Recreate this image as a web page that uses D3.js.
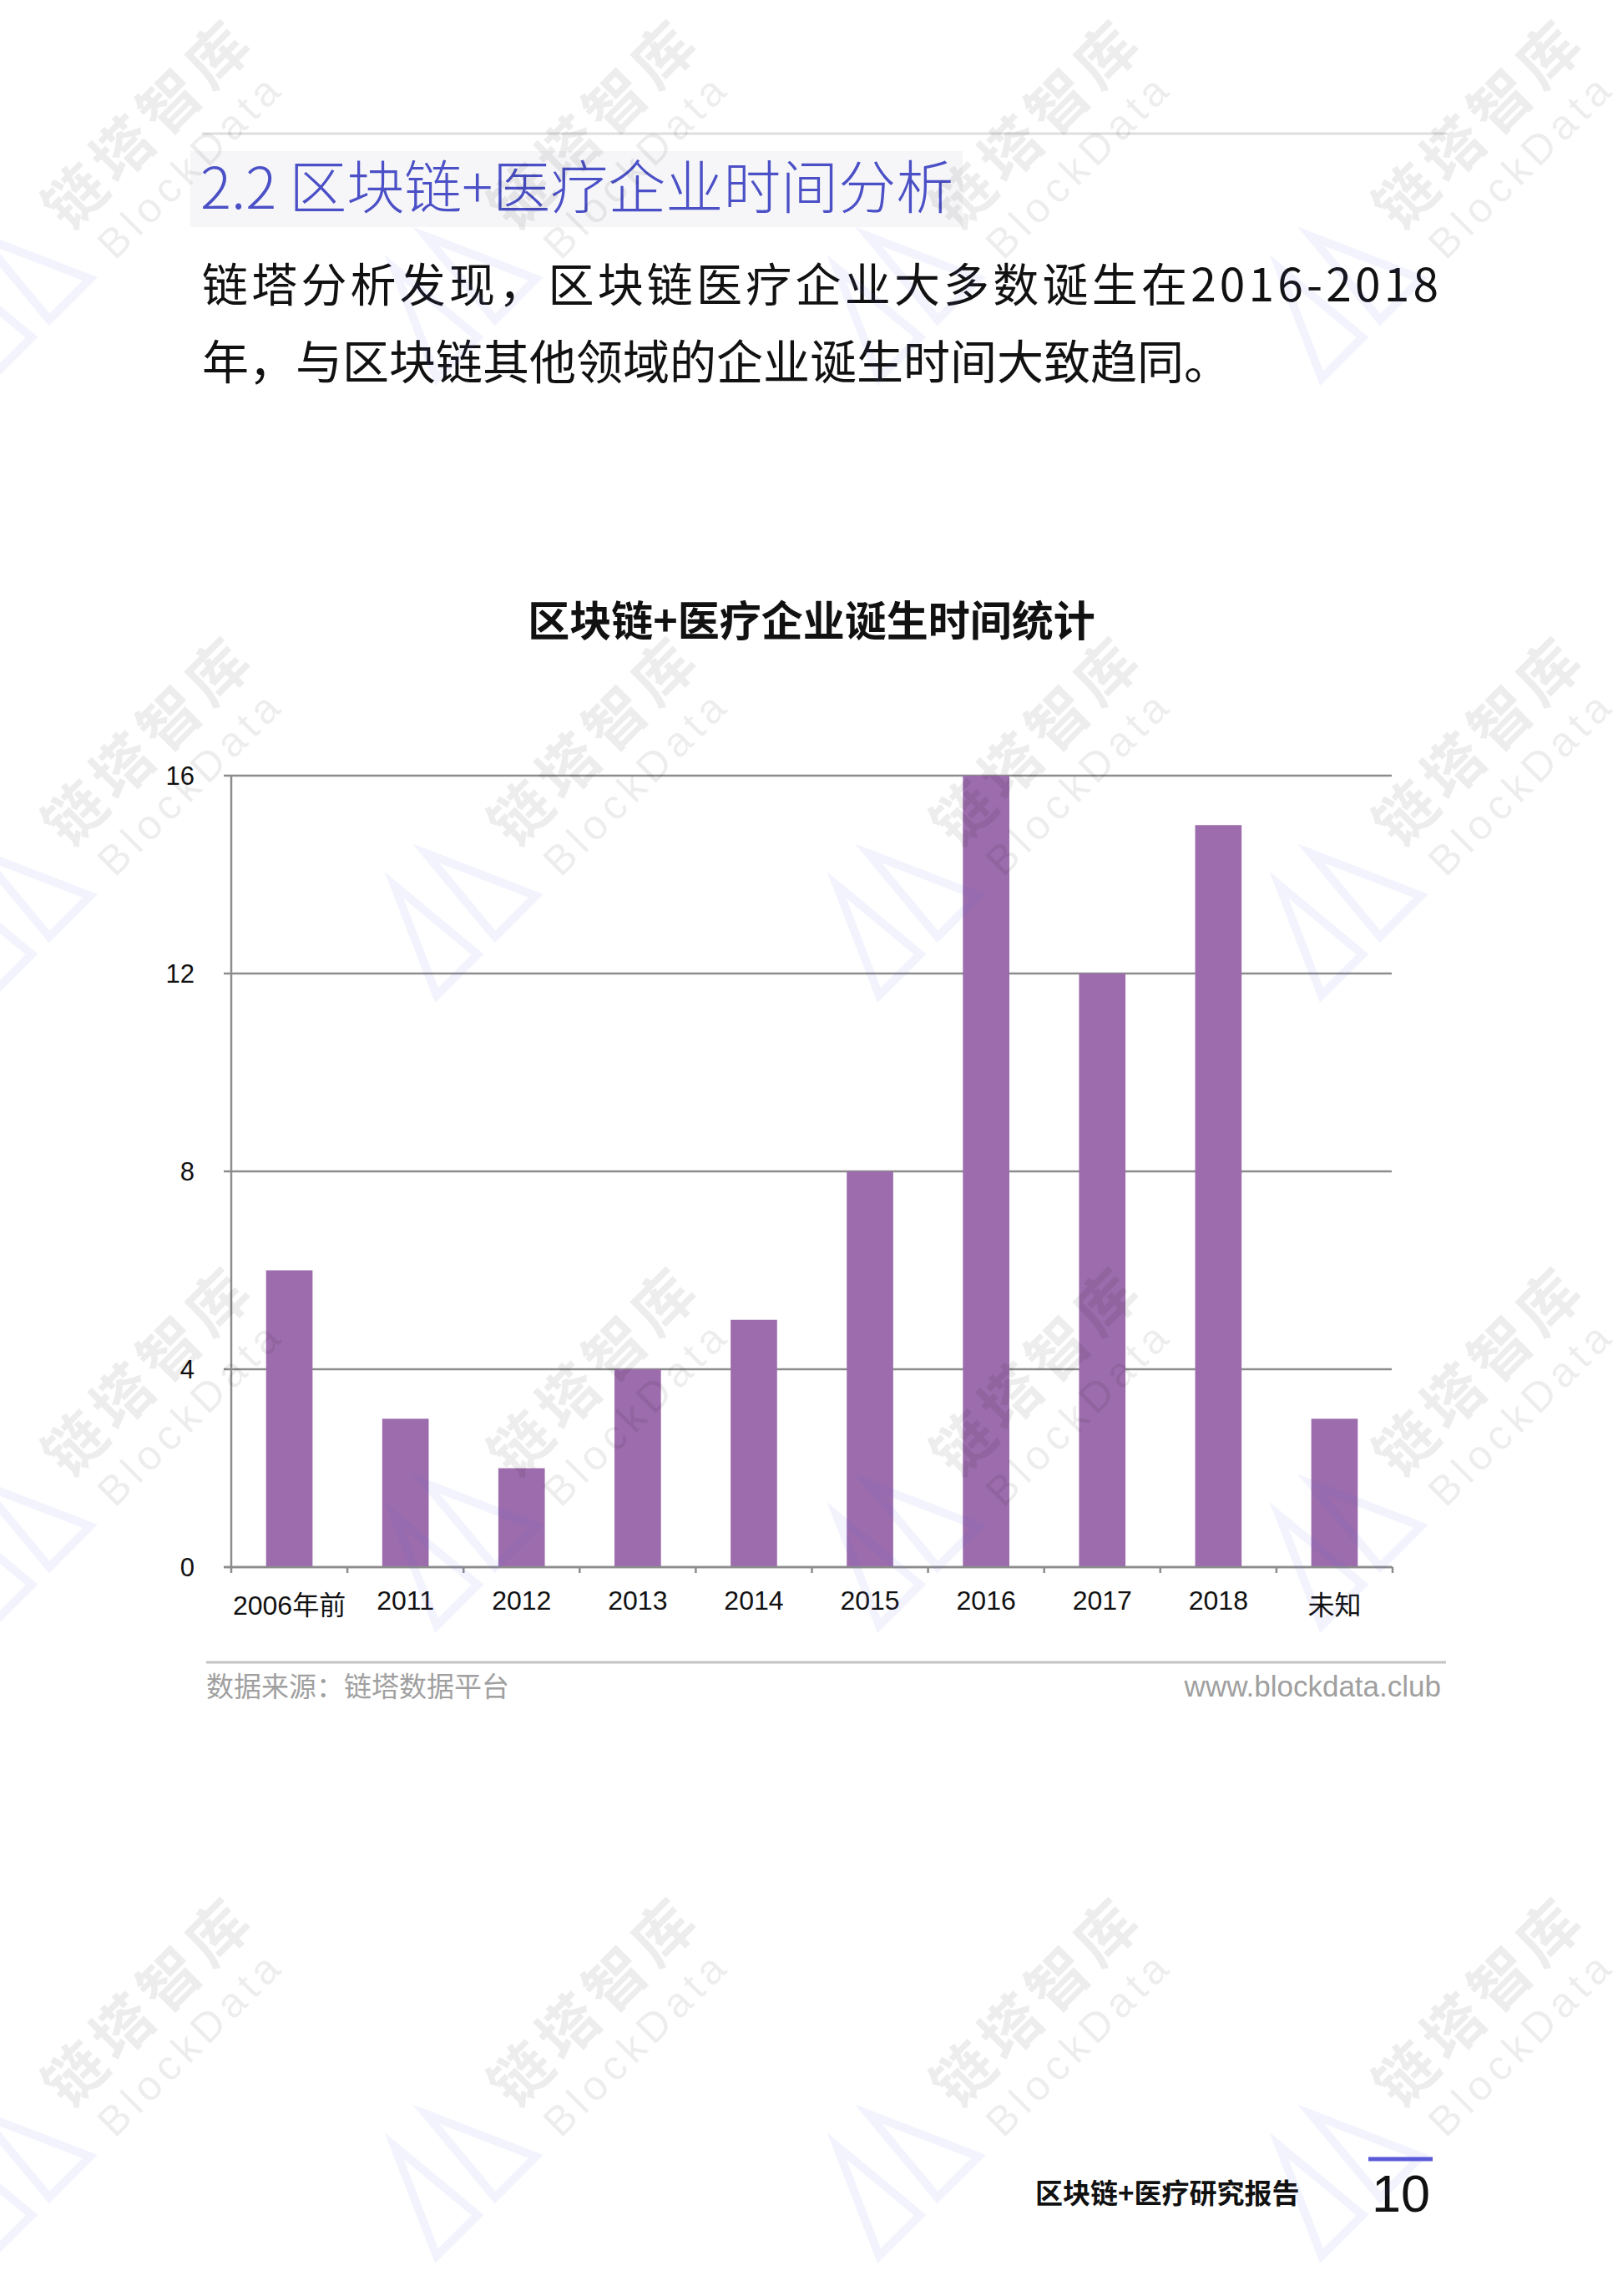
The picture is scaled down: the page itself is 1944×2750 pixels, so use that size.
<!DOCTYPE html>
<html><head><meta charset="utf-8">
<script src="https://cdn.jsdelivr.net/npm/d3@7/dist/d3.min.js"></script>
<style>body{margin:0;background:#fff}svg{display:block}</style>
</head><body><svg id="c" width="1944" height="2750"></svg>
<script>
const categories = ["2006年前","2011","2012","2013","2014","2015","2016","2017","2018","未知"];
const counts = [6,3,2,4,5,8,16,12,15,3];
const yTicks = [0,4,8,12,16];
const sectionTitle = "2.2 区块链+医疗企业时间分析";
const bodyLines = ["链塔分析发现，区块链医疗企业大多数诞生在2016-2018","年，与区块链其他领域的企业诞生时间大致趋同。"];
const chartTitle = "区块链+医疗企业诞生时间统计";
const sourceText = "数据来源：链塔数据平台";
const siteText = "www.blockdata.club";
const footerTitle = "区块链+医疗研究报告";
const pageNo = "10";

const svg = d3.select("#c");
const CJK = "'Noto Sans CJK SC','Noto Sans',sans-serif";
const LAT = "'Liberation Sans',Arial,'Noto Sans CJK SC',sans-serif";

// header
svg.append("line").attr("x1",242).attr("x2",1733).attr("y1",160).attr("y2",160)
  .attr("stroke","#dedede").attr("stroke-width",3);
svg.append("rect").attr("x",228).attr("y",181).attr("width",925).attr("height",91).attr("fill","#f6f6f8");
svg.append("text").attr("x",240).attr("y",250).attr("font-family",CJK).attr("font-weight",300)
  .attr("font-size",69).attr("fill","#4b50c6").text(sectionTitle);
svg.append("text").attr("x",242).attr("y",361).attr("font-family",CJK).attr("font-size",55)
  .attr("fill","#111").attr("textLength",1481).attr("lengthAdjust","spacing").text(bodyLines[0]);
svg.append("text").attr("x",242).attr("y",454).attr("font-family",CJK).attr("font-size",56)
  .attr("fill","#111").text(bodyLines[1]);

// chart title
svg.append("text").attr("x",972).attr("y",762).attr("text-anchor","middle").attr("font-family",CJK)
  .attr("font-weight",700).attr("font-size",50).attr("fill","#111").text(chartTitle);

// scales
const x = d3.scaleBand().domain(categories).range([277,1668]).paddingInner(0.6).paddingOuter(0.3);
const y = d3.scaleLinear().domain([0,16]).range([1877,929]);
const g = svg.append("g");

// gridlines
g.selectAll("line.grid").data(yTicks).join("line").attr("class","grid")
  .attr("x1",268).attr("x2",1667).attr("y1",d=>y(d)).attr("y2",d=>y(d))
  .attr("stroke","#8c8c8c").attr("stroke-width",2.5);
g.selectAll("text.yl").data(yTicks).join("text").attr("class","yl")
  .attr("x",233).attr("y",d=>y(d)+11).attr("text-anchor","end")
  .attr("font-family",LAT).attr("font-size",31).attr("fill","#111").text(d=>d);

// bars
g.selectAll("rect.bar").data(categories).join("rect").attr("class","bar")
  .attr("x",d=>x(d)).attr("width",x.bandwidth())
  .attr("y",(d,i)=>y(counts[i])).attr("height",(d,i)=>y(0)-y(counts[i]))
  .attr("fill","#9c6cac");

// y axis line
g.append("line").attr("x1",277).attr("x2",277).attr("y1",y(16)).attr("y2",y(0))
  .attr("stroke","#8c8c8c").attr("stroke-width",2.5);
// x axis line
g.append("line").attr("x1",268).attr("x2",1668).attr("y1",y(0)).attr("y2",y(0))
  .attr("stroke","#8c8c8c").attr("stroke-width",2.5);
const bounds = categories.map(c=>x(c)-x.step()*x.paddingOuter());
bounds.push(bounds[bounds.length-1]+x.step());
g.selectAll("line.xt").data(bounds).join("line").attr("class","xt")
  .attr("x1",d=>d).attr("x2",d=>d).attr("y1",y(0)).attr("y2",y(0)+7)
  .attr("stroke","#8c8c8c").attr("stroke-width",2.5);
g.selectAll("text.xl").data(categories).join("text").attr("class","xl")
  .attr("x",d=>x(d)+x.bandwidth()/2).attr("y",d=>/[^\x00-\x7f]/.test(d)?1934:1928)
  .attr("text-anchor","middle").attr("font-family",LAT).attr("font-size",32).attr("fill","#111").text(d=>d);

// source line
svg.append("line").attr("x1",247).attr("x2",1732).attr("y1",1991).attr("y2",1991)
  .attr("stroke","#c4c4c4").attr("stroke-width",3);
svg.append("text").attr("x",247).attr("y",2032).attr("font-family",CJK).attr("font-size",33)
  .attr("fill","#a0a0a0").text(sourceText);
svg.append("text").attr("x",1726).attr("y",2032).attr("text-anchor","end").attr("font-family",LAT)
  .attr("font-size",35).attr("fill","#a0a0a0").text(siteText);

// footer
svg.append("text").attr("x",1240).attr("y",2639).attr("font-family",CJK).attr("font-weight",700)
  .attr("font-size",33).attr("fill","#111").text(footerTitle);
svg.append("line").attr("x1",1639).attr("x2",1716).attr("y1",2586).attr("y2",2586)
  .attr("stroke","#5a5ad8").attr("stroke-width",5);
svg.append("text").attr("x",1678).attr("y",2649).attr("text-anchor","middle").attr("font-family",LAT)
  .attr("font-size",63).attr("fill","#111").text(pageNo);

// watermarks
const wmCols = [178,712,1242,1772];
const wmRows = [148,887,1642,2397];
const wm = svg.append("g").attr("pointer-events","none");
const logoPath = "M-46,-85 L86,-34 L37,15 Z M-84,-47 L-33,85 L16,36 Z";
wmRows.forEach(ry=>wmCols.forEach(cx=>{
  const lg = wm.append("g").attr("transform",`translate(${cx-156},${ry+220})`);
  lg.append("path").attr("d",logoPath).attr("fill","none").attr("stroke","rgb(90,100,235)")
    .attr("stroke-opacity",0.08).attr("stroke-width",10).attr("stroke-linejoin","miter");
  const t = wm.append("g").attr("transform",`translate(${cx},${ry}) rotate(-45)`);
  t.append("text").attr("text-anchor","middle").attr("y",26).attr("font-family",CJK).attr("font-weight",700)
    .attr("font-size",72).attr("letter-spacing",8).attr("fill","#000").attr("fill-opacity",0.07).text("链塔智库");
  t.append("text").attr("text-anchor","middle").attr("y",88).attr("font-family",LAT)
    .attr("font-size",50).attr("letter-spacing",7).attr("fill","#000").attr("fill-opacity",0.07).text("BlockData");
}));
</script></body></html>
